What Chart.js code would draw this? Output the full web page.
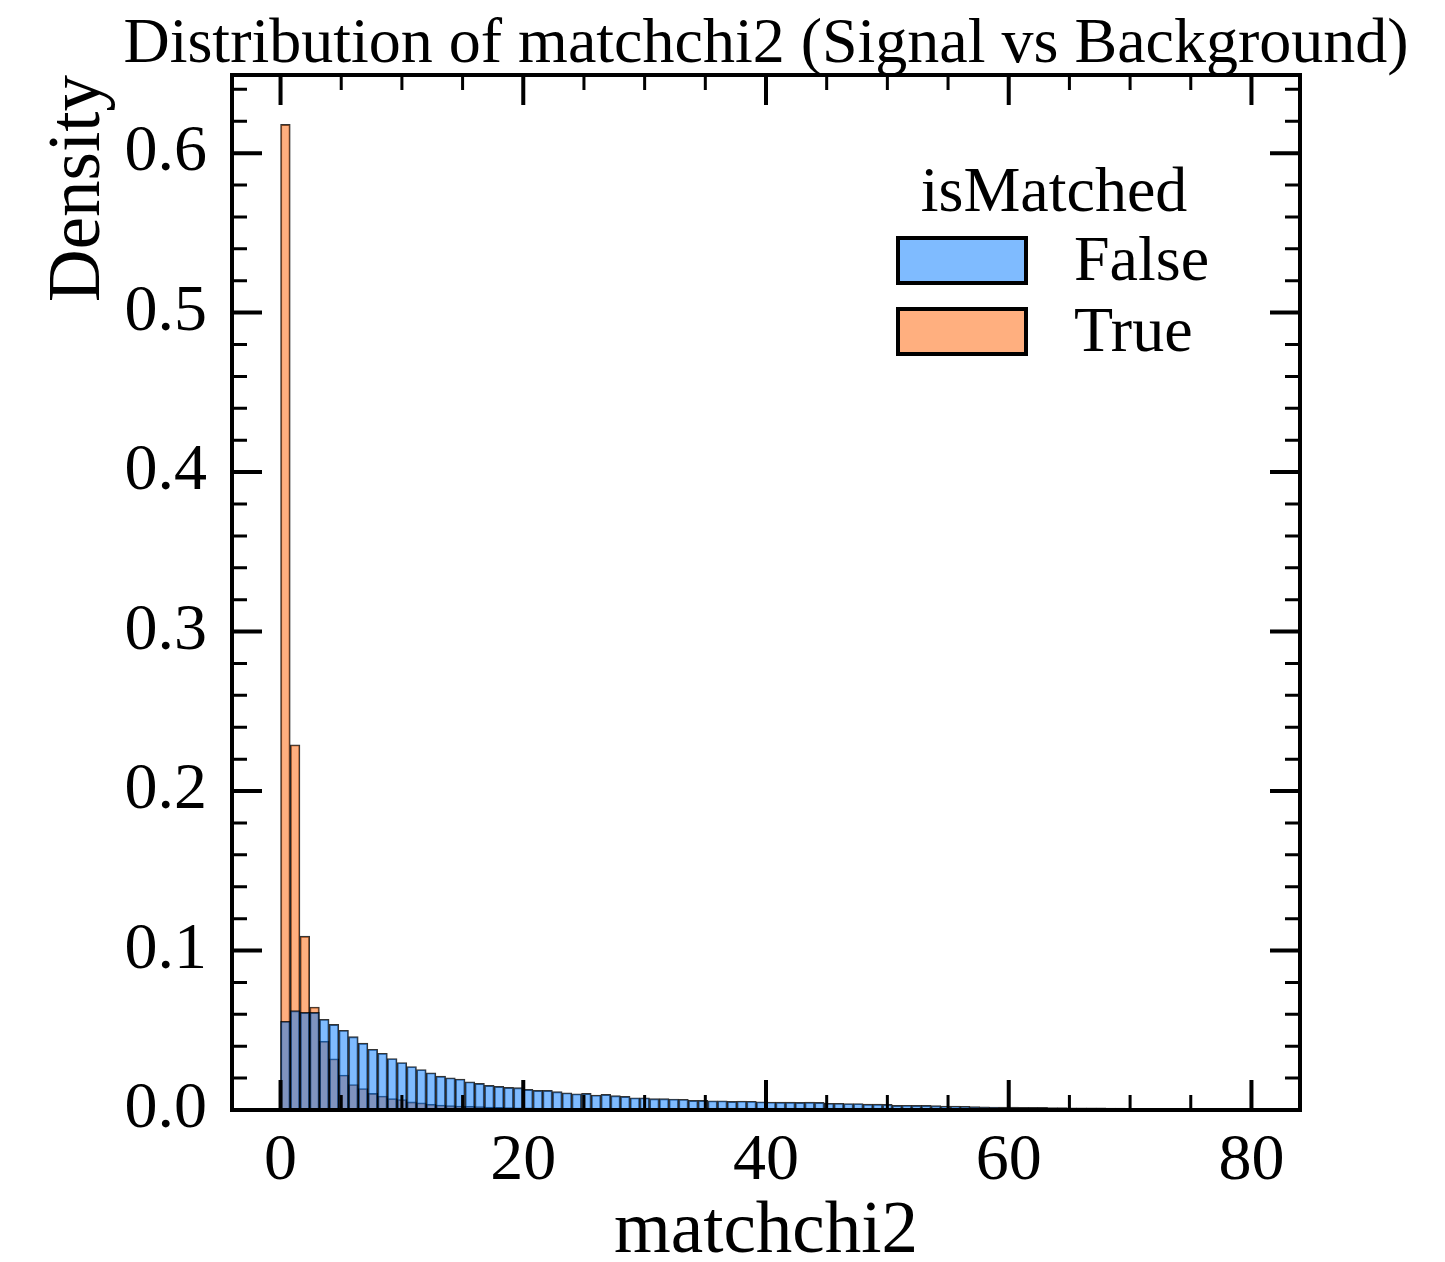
<!DOCTYPE html>
<html lang="en">
<head>
    <meta charset="UTF-8">
    <title>Distribution of matchchi2</title>
    <script src="https://cdn.jsdelivr.net/npm/chart.js"></script>
    <style>
        html, body { margin: 0; padding: 0; background: #fff; }
        #wrap { width: 1445px; height: 1262px; }
    </style>
</head>
<body>
    <div id="wrap"><canvas id="histChart" width="1445" height="1262"></canvas></div>
    <script>
        // histogram bins: 100 bins of width 0.8 starting at 0
        const BIN_START = 0;
        const BIN_WIDTH = 0.8;

        // isMatched = False (background)
        const falseDensity = [
            0.0556, 0.0623, 0.0612, 0.0612, 0.0569, 0.0537, 0.0500, 0.0460, 0.0419, 0.0381,
            0.0356, 0.0323, 0.0298, 0.0273, 0.0254, 0.0233, 0.0212, 0.0202, 0.0194, 0.0177,
            0.0167, 0.0154, 0.0148, 0.0142, 0.0140, 0.0129, 0.0123, 0.0123, 0.0115, 0.0108,
            0.0102, 0.0104, 0.0094, 0.0098, 0.0090, 0.0085, 0.0077, 0.0077, 0.0071, 0.0071,
            0.0069, 0.0067, 0.0060, 0.0060, 0.0058, 0.0058, 0.0054, 0.0056, 0.0055, 0.0052,
            0.0050, 0.0049, 0.0049, 0.0048, 0.0049, 0.0048, 0.0042, 0.0042, 0.0041, 0.0041,
            0.0037, 0.0037, 0.0035, 0.0029, 0.0030, 0.0029, 0.0029, 0.0027, 0.0025, 0.0025,
            0.0023, 0.0021, 0.0020, 0.0019, 0.0018, 0.0018, 0.0017, 0.0016, 0.0016, 0.0015,
            0.0015, 0.0014, 0.0014, 0.0013, 0.0013, 0.0012, 0.0012, 0.0011, 0.0011, 0.0010,
            0.0010, 0.0008, 0.0007, 0.0007, 0.0006, 0.0005, 0.0005, 0.0004, 0.0004, 0.0003
        ];

        // isMatched = True (signal)
        const trueDensity = [
            0.618, 0.229, 0.109, 0.0646, 0.0431, 0.0321, 0.0219, 0.0160, 0.0135, 0.0104,
            0.0088, 0.0072, 0.0066, 0.0051, 0.0045, 0.0036, 0.0031, 0.0027, 0.0025, 0.0023,
            0.0021, 0.0018, 0.0016, 0.0015, 0.0014, 0.0013, 0.0012, 0.0011, 0.0010, 0.0010,
            0.0009, 0.0008, 0.0008, 0.0007, 0.0007, 0.0006, 0.0006, 0.0005, 0.0005, 0.0005,
            0.0004, 0.0004, 0.0004, 0.0003, 0.0003, 0.0003, 0.0003, 0.0002, 0.0002, 0.0002,
            0.0002, 0.0002, 0.0002, 0.0001, 0.0001, 0.0001, 0.0001, 0.0001, 0.0001, 0.0001,
            0.0001, 0.0001, 0.0001, 0.0001, 0.0001, 0.0001, 0.0001, 0.0001, 0.0001, 0.0001,
            0, 0, 0, 0, 0, 0, 0, 0, 0, 0,
            0, 0, 0, 0, 0, 0, 0, 0, 0, 0,
            0, 0, 0, 0, 0, 0, 0, 0, 0, 0
        ];

        const xTicks = [0, 20, 40, 60, 80];
        const yTicks = [0.0, 0.1, 0.2, 0.3, 0.4, 0.5, 0.6];
        const seriesNames = ['False', 'True'];
        const legendTitle = 'isMatched';
        const chartTitle = 'Distribution of matchchi2 (Signal vs Background)';
        const xLabel = 'matchchi2';
        const yLabel = 'Density';

        const BLUE = 'rgba(0, 120, 255, 0.5)';
        const ORANGE = 'rgba(255, 96, 0, 0.5)';
        const EDGE = 'rgba(0, 0, 0, 0.8)';
        const FONT = "'Liberation Serif', 'Times New Roman', serif";

        const toPoints = arr => arr.map((v, i) => ({ x: BIN_START + BIN_WIDTH * (i + 0.5), y: v }));

        // inward ticks on all four sides + frame, legend, titles
        const decor = {
            id: 'decor',
            afterDatasetsDraw(chart) {
                const { ctx, chartArea: a, scales: { x, y } } = chart;
                ctx.save();
                ctx.strokeStyle = '#000';

                // x ticks (major every 20, minor every 5)
                for (let v = 0; v <= 80; v += 5) {
                    const px = x.getPixelForValue(v);
                    const major = v % 20 === 0;
                    const len = major ? 30 : 15;
                    ctx.lineWidth = major ? 4 : 3;
                    ctx.beginPath();
                    ctx.moveTo(px, a.bottom); ctx.lineTo(px, a.bottom - len);
                    ctx.moveTo(px, a.top); ctx.lineTo(px, a.top + len);
                    ctx.stroke();
                }
                // y ticks (major every 0.1, minor every 0.02)
                for (let k = 0; k <= 32; k++) {
                    const v = k * 0.02;
                    const py = y.getPixelForValue(v);
                    if (py < a.top) break;
                    const major = k % 5 === 0;
                    const len = major ? 30 : 15;
                    ctx.lineWidth = major ? 4 : 3;
                    ctx.beginPath();
                    ctx.moveTo(a.left, py); ctx.lineTo(a.left + len, py);
                    ctx.moveTo(a.right, py); ctx.lineTo(a.right - len, py);
                    ctx.stroke();
                }
                // frame
                ctx.lineWidth = 4;
                ctx.strokeRect(a.left, a.top, a.right - a.left, a.bottom - a.top);

                // legend
                ctx.fillStyle = '#000';
                ctx.font = '64px ' + FONT;
                ctx.textAlign = 'center';
                ctx.textBaseline = 'alphabetic';
                ctx.fillText(legendTitle, 1054, 211);
                const colors = [BLUE, ORANGE];
                seriesNames.forEach((name, i) => {
                    const by = 238 + i * 71;
                    ctx.fillStyle = '#fff';
                    ctx.fillRect(898, by, 128, 45);
                    ctx.fillStyle = colors[i];
                    ctx.fillRect(898, by, 128, 45);
                    ctx.lineWidth = 4;
                    ctx.strokeStyle = '#000';
                    ctx.strokeRect(898, by, 128, 45);
                    ctx.fillStyle = '#000';
                    ctx.textAlign = 'left';
                    ctx.fillText(name, 1074, by + 42);
                });

                // title
                ctx.textAlign = 'center';
                ctx.font = '64px ' + FONT;
                ctx.fillText(chartTitle, (a.left + a.right) / 2, 62);

                // x axis label
                ctx.font = '73px ' + FONT;
                ctx.fillText(xLabel, (a.left + a.right) / 2, 1252);

                // y axis label (aligned to top)
                ctx.save();
                ctx.translate(99, a.top);
                ctx.rotate(-Math.PI / 2);
                ctx.textAlign = 'right';
                ctx.fillText(yLabel, 0, 0);
                ctx.restore();

                ctx.restore();
            }
        };

        const ctx = document.getElementById('histChart').getContext('2d');
        new Chart(ctx, {
            type: 'bar',
            data: {
                datasets: [
                    {
                        label: seriesNames[0],
                        data: toPoints(falseDensity),
                        backgroundColor: BLUE,
                        borderColor: EDGE,
                        borderWidth: 1.2
                    },
                    {
                        label: seriesNames[1],
                        data: toPoints(trueDensity),
                        backgroundColor: ORANGE,
                        borderColor: EDGE,
                        borderWidth: 1.2
                    }
                ]
            },
            options: {
                responsive: false,
                devicePixelRatio: 1,
                animation: false,
                grouped: false,
                barPercentage: 1,
                categoryPercentage: 1,
                layout: { padding: { top: 75, right: 145, left: 0, bottom: 0 } },
                plugins: {
                    legend: { display: false },
                    title: { display: false },
                    tooltip: { enabled: false }
                },
                scales: {
                    x: {
                        type: 'linear',
                        offset: false,
                        min: -4,
                        max: 84,
                        grid: { display: false, drawTicks: false, offset: false },
                        border: { display: false },
                        afterBuildTicks: s => { s.ticks = xTicks.map(v => ({ value: v })); },
                        afterFit: s => { s.height = 152; },
                        ticks: {
                            color: '#000',
                            padding: 12,
                            maxRotation: 0,
                            font: { family: FONT, size: 66 },
                            callback: v => String(v)
                        }
                    },
                    y: {
                        type: 'linear',
                        min: 0,
                        max: 0.649,
                        grid: { display: false, drawTicks: false },
                        border: { display: false },
                        afterBuildTicks: s => { s.ticks = yTicks.map(v => ({ value: v })); },
                        afterFit: s => { s.width = 232; },
                        ticks: {
                            color: '#000',
                            padding: 25,
                            font: { family: FONT, size: 66 },
                            callback: v => Number(v).toFixed(1)
                        }
                    }
                }
            },
            plugins: [decor]
        });
    </script>
</body>
</html>
